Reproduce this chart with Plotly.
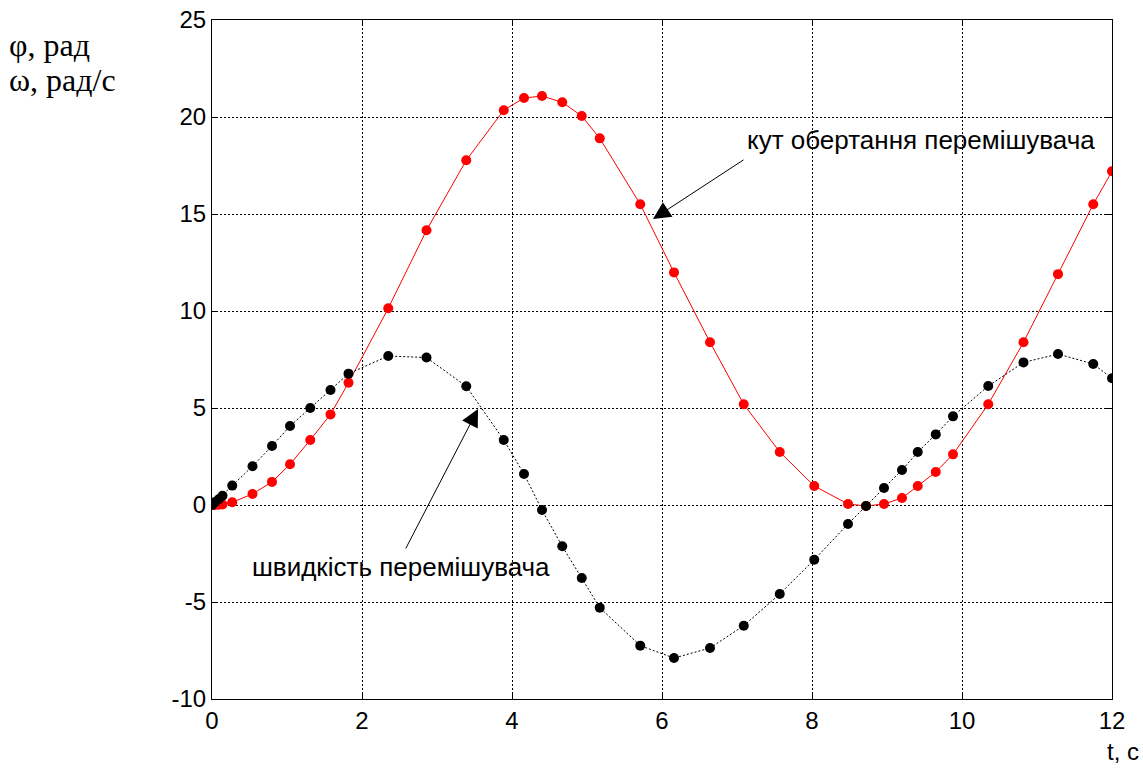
import plotly.graph_objects as go

t = [0, 0.04, 0.09, 0.14, 0.27, 0.54, 0.8, 1.04, 1.31, 1.58, 1.82, 2.35, 2.86, 3.39, 3.89,
     4.16, 4.4, 4.67, 4.93, 5.17, 5.71, 6.16, 6.64, 7.09, 7.57, 8.03, 8.48, 8.72, 8.96,
     9.2, 9.41, 9.65, 9.88, 10.35, 10.82, 11.28, 11.75, 12.0]
phi = [0, 0.0, 0.01, 0.03, 0.14, 0.57, 1.19, 2.1, 3.35, 4.67, 6.3, 10.14, 14.16, 17.77, 20.35,
       20.98, 21.08, 20.76, 20.05, 18.9, 15.5, 11.99, 8.39, 5.19, 2.73, 0.98, 0.05, -0.05, 0.05,
       0.36, 0.98, 1.7, 2.61, 5.19, 8.39, 11.9, 15.5, 17.2]
omega = [0, 0.15, 0.3, 0.48, 1.0, 2.0, 3.04, 4.07, 5.0, 5.93, 6.77, 7.68, 7.6, 6.12, 3.35,
         1.6, -0.26, -2.13, -3.76, -5.29, -7.25, -7.89, -7.37, -6.22, -4.59, -2.82, -0.98, -0.05, 0.88,
         1.8, 2.73, 3.64, 4.57, 6.13, 7.35, 7.78, 7.27, 6.53]

x_ticks = [0, 2, 4, 6, 8, 10, 12]
y_ticks = [-10, -5, 0, 5, 10, 15, 20, 25]
x_labels = ["0", "2", "4", "6", "8", "10", "12"]
y_labels = ["-10", "-5", "0", "5", "10", "15", "20", "25"]

fig = go.Figure()
fig.add_trace(go.Scatter(x=t, y=phi, mode="lines+markers",
                         line=dict(color="#ff0000", width=1),
                         marker=dict(color="#ff0000", size=10)))
fig.add_trace(go.Scatter(x=t, y=omega, mode="lines+markers",
                         line=dict(color="#000000", width=1, dash="2px,2px"),
                         marker=dict(color="#000000", size=10)))

axis_common = dict(showline=True, linecolor="black", linewidth=1, mirror="allticks",
                   ticks="inside", ticklen=6, tickcolor="black",
                   showgrid=True, gridcolor="black", gridwidth=1, griddash="2px,2px",
                   zeroline=False, ticklabeloverflow="allow", automargin=False,
                   tickfont=dict(family="Liberation Sans, Arial", size=24, color="black"))

fig.update_layout(
    width=1143, height=769,
    margin=dict(l=212, r=31, t=20, b=70, autoexpand=False),
    paper_bgcolor="white", plot_bgcolor="white",
    showlegend=False,
    xaxis=dict(range=[0, 12], tickvals=x_ticks, ticktext=x_labels, **axis_common),
    yaxis=dict(range=[-10, 25], tickvals=y_ticks, ticktext=y_labels, **axis_common),
)

serif = dict(family="Liberation Serif, Times New Roman", size=32, color="black")
sans = dict(family="Liberation Sans, Arial", size=26, color="black")

fig.add_annotation(xref="paper", yref="paper", x=0, y=1.0, yanchor="middle", xanchor="left",
                   text="φ, рад", showarrow=False, font=serif, xshift=-205, yshift=-25)
fig.add_annotation(xref="paper", yref="paper", x=0, y=1.0, yanchor="middle", xanchor="left",
                   text="ω, рад/с", showarrow=False, font=serif, xshift=-205, yshift=-60)
fig.add_annotation(xref="paper", yref="paper", x=1.0, y=0, xanchor="right", yanchor="middle",
                   text="t, c", showarrow=False,
                   font=dict(family="Liberation Sans, Arial", size=24, color="black"),
                   yshift=-52, xshift=29)

fig.add_annotation(x=7.107, y=18.8, xanchor="left", text="кут обертання перемішувача",
                   showarrow=False, font=sans)
fig.add_annotation(x=5.88, y=14.74, ax=7.107, ay=17.84, axref="x", ayref="y", text="",
                   showarrow=True, arrowhead=2, arrowsize=3.5, arrowwidth=1, arrowcolor="black")

fig.add_annotation(x=0.507, y=-3.2, xanchor="left", text="швидкість перемішувача",
                   showarrow=False, font=sans)
fig.add_annotation(x=3.547, y=4.95, ax=2.573, ay=-2.32, axref="x", ayref="y", text="",
                   showarrow=True, arrowhead=2, arrowsize=3.5, arrowwidth=1, arrowcolor="black")

fig.write_html("out.html", config={"displayModeBar": False},
               post_script="document.body.style.margin='0';document.body.style.overflow='hidden';")
